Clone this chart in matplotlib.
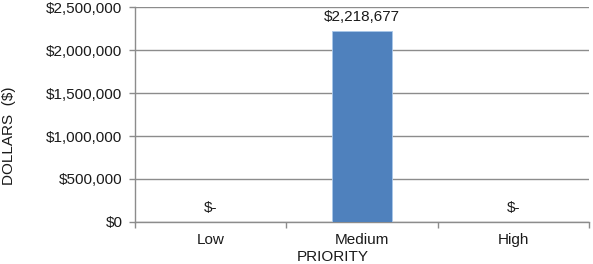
import matplotlib
matplotlib.use("Agg")
import matplotlib.pyplot as plt
from matplotlib.ticker import FuncFormatter, FixedLocator, NullFormatter

categories = ["Low", "Medium", "High"]
dollars = [0, 2218677, 0]
yticks = [0, 500000, 1000000, 1500000, 2000000, 2500000]

W, H = 593, 264
fig = plt.figure(figsize=(W / 100, H / 100), dpi=100)
plt.rcParams['font.family'] = ['Liberation Sans', 'DejaVu Sans']
FS = 11

# plot area in pixels: left 135, right 589, top 7, bottom 222
ax = fig.add_axes([135 / W, 1 - 222 / H, (589 - 135) / W, (222 - 7) / H])

grid_c = '#8c8c8c'
x = list(range(len(categories)))
ax.bar(x, dollars, width=0.4, color='#4F81BD', edgecolor='#a9c8ea', linewidth=0.6, zorder=3)

ax.set_xlim(-0.5, len(categories) - 0.5)
ax.set_ylim(0, 2500000)
ax.set_yticks(yticks)
ax.yaxis.set_major_formatter(FuncFormatter(lambda v, p: '${:,.0f}'.format(v)))
ax.grid(axis='y', color=grid_c, linewidth=1.0, zorder=0)

# category labels between boundary ticks
ax.xaxis.set_major_locator(FixedLocator([-0.5, 0.5, 1.5, 2.5]))
ax.xaxis.set_major_formatter(NullFormatter())
ax.xaxis.set_minor_locator(FixedLocator(x))
ax.set_xticklabels(categories, minor=True)
ax.tick_params(axis='x', which='minor', length=0, pad=8, labelsize=FS, colors='#1a1a1a')
ax.tick_params(axis='x', which='major', length=4, color=grid_c, width=1.0)
ax.tick_params(axis='y', length=4, color=grid_c, width=1.0, labelsize=FS, labelcolor='#1a1a1a', pad=5)

for s in ['top', 'right']:
    ax.spines[s].set_visible(False)
for s in ['left', 'bottom']:
    ax.spines[s].set_color(grid_c)
    ax.spines[s].set_linewidth(1.0)

for xi, v in zip(x, dollars):
    lbl = '${:,.0f}'.format(v) if v else '$-'
    ax.annotate(lbl, (xi, v), xytext=(0, 10), textcoords='offset points',
                ha='center', va='center', fontsize=FS, color='#1a1a1a')

fig.text(9 / W, 1 - 136 / H, 'DOLLARS  ($)', rotation=90, ha='center', va='center',
         fontsize=FS, color='#1a1a1a')
fig.text(333 / W, 1 - 257 / H, 'PRIORITY', ha='center', va='center',
         fontsize=FS, color='#1a1a1a')

fig.savefig('out.png', dpi=100)
